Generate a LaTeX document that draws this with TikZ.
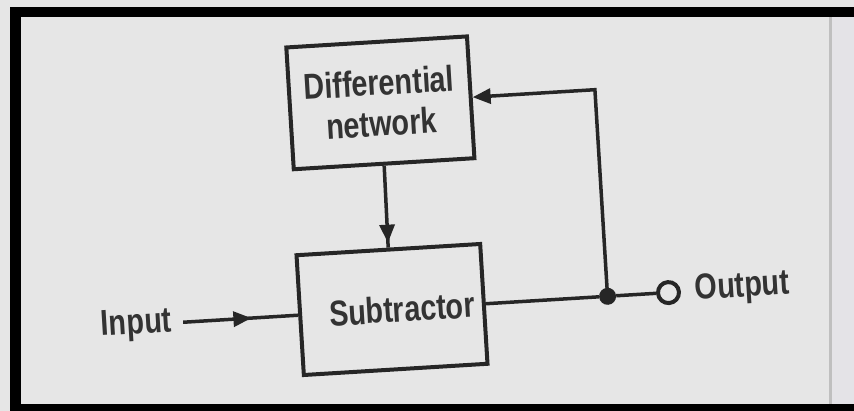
\documentclass[tikz,border=0pt]{standalone}
\usepackage{fontspec}
\newfontfamily\labfont{Liberation Sans Bold}[FakeStretch=0.8]
\usetikzlibrary{arrows.meta,decorations.markings}
\definecolor{bgc}{HTML}{E6E6E6}
\definecolor{bgr}{HTML}{E4E3E7}
\definecolor{ink}{HTML}{262626}
\definecolor{txt}{HTML}{333333}
\tikzset{
  blockbox/.style={draw=ink,line width=4pt,inner sep=0pt,align=center},
  lab/.style={font=\labfont\fontsize{36}{41}\selectfont,text=txt},
  wire/.style={draw=ink,line width=3.5pt},
  tipstyle/.style={-{Triangle[length=18pt,width=15pt]}},
  midarrow/.style={postaction={decorate},decoration={markings,mark=at position #1 with {\arrow{Triangle[length=18pt,width=15pt]}}}}
}
\begin{document}
\begin{tikzpicture}[x=1pt,y=-1pt]
\useasboundingbox (0,0) rectangle (854,411);
\fill[bgc] (0,0) rectangle (854,411);
\fill[bgr] (831,17) rectangle (854,404);
\draw[color=black!25,line width=3pt] (830,17) -- (830,404);
\fill[black] (10,7) rectangle (854,17);
\fill[black] (10,7) rectangle (21,411);
\fill[black] (10,404) rectangle (854,411);
\begin{scope}[rotate around={3.5:(430,210)},transform shape]
  \node[blockbox,lab,minimum width=181pt,minimum height=122pt] (diff) at (387,100) {Differential\\network};
  \node[blockbox,lab,minimum width=184pt,minimum height=120pt] (sub) at (386,307) {\hspace*{20pt}Subtractor};
  \node[lab] (in) at (130,307) {Input};
  \node[circle,fill=ink,inner sep=0pt,minimum size=17pt] (dot) at (602,307) {};
  \node[circle,draw=ink,line width=4pt,inner sep=0pt,minimum size=21pt] (term) at (663,307) {};
  \node[lab] (out) at (737,307) {Output};
  \draw[wire,midarrow=0.62,shorten <=8pt] (in.east) -- (sub.west);
  \draw[wire,midarrow=0.94] (diff.south) -- (sub.north);
  \draw[wire] (sub.east) -- (dot);
  \draw[wire] (dot) -- (term);
  \draw[wire,tipstyle] (dot.center) |- (diff.east);
\end{scope}
\end{tikzpicture}
\end{document}
